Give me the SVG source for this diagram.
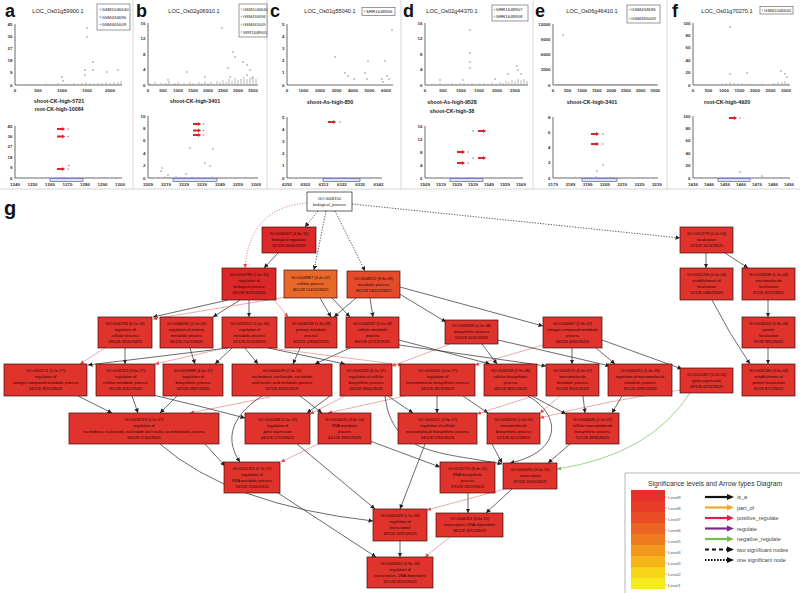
<svg xmlns="http://www.w3.org/2000/svg" xmlns:xlink="http://www.w3.org/1999/xlink" width="800" height="593" viewBox="0 0 800 593">
<defs>
<style>
text{font-family:"Liberation Sans",Arial,sans-serif}
.let{font-size:18px;font-weight:bold;fill:#111}
.ttl{font-size:5.6px;fill:#222;text-anchor:middle}
.sub{font-size:5.3px;font-weight:bold;fill:#222;text-anchor:middle}
.yt{font-size:4.4px;font-weight:bold;fill:#333;text-anchor:end}
.xt{font-size:4.4px;font-weight:bold;fill:#333;text-anchor:middle}
.lg{font-size:4.4px;fill:#222}
.ax{fill:none;stroke:#444;stroke-width:0.8}
.sep{stroke:#d4d4d4;stroke-width:1}
.lgb{fill:#fff;stroke:#555;stroke-width:0.6}
.cl{fill:none;stroke:#9a9a9a;stroke-width:0.7}
.p{fill:#8c8c8c}
.lm{fill:none;stroke:#777;stroke-width:0.4}
.ra{fill:#d8262a}
.gb{fill:#dfe3f5;stroke:#5566b0;stroke-width:0.7}
.nd rect{fill:#e0332b;stroke:#3c0c0c;stroke-width:0.7}
.nd text{font-size:3.9px;fill:#2a0606;text-anchor:middle}
#root rect{fill:#fff;stroke:#222}
#root text{fill:#111;font-size:4px}
#n-breg rect,#n-rbp rect{fill:#dc2828}
#n-cp rect{fill:#e8682a}
#n-mp rect{fill:#e54b2b}
.e{fill:none;stroke:#3a3a3a;stroke-width:0.75;marker-end:url(#ak)}
.r{fill:none;stroke:#e07070;stroke-width:0.6;marker-end:url(#ar)}
.g{fill:none;stroke:#86c86a;stroke-width:0.8;marker-end:url(#ag)}
.dt{stroke-dasharray:1.2 1.5;stroke-width:0.9}
.lt{font-size:6.8px;fill:#333}
.ll{font-size:4.3px;fill:#555}
.al{font-size:5.5px;fill:#444}
.la{fill:none;stroke-width:2.2}
</style>
<marker id="ak" viewBox="0 0 10 10" refX="10" refY="5" markerWidth="4.5" markerHeight="4.5" markerUnits="userSpaceOnUse" orient="auto"><path d="M0,0L10,5L0,10z" fill="#222"/></marker>
<marker id="ar" viewBox="0 0 10 10" refX="10" refY="5" markerWidth="4" markerHeight="4" markerUnits="userSpaceOnUse" orient="auto"><path d="M0,0L10,5L0,10z" fill="#e04848"/></marker>
<marker id="ag" viewBox="0 0 10 10" refX="10" refY="5" markerWidth="4" markerHeight="4" markerUnits="userSpaceOnUse" orient="auto"><path d="M0,0L10,5L0,10z" fill="#6ab850"/></marker>
<path id="rar" class="ra" d="M0,-0.9h5v-1.2l3.2,2.1l-3.2,2.1v-1.2h-5z"/>
</defs>
<rect width="800" height="593" fill="#fff"/>

<g id="panels">
<line class="sep" x1="133" y1="0" x2="133" y2="189"/>
<line class="sep" x1="267" y1="0" x2="267" y2="189"/>
<line class="sep" x1="401" y1="0" x2="401" y2="189"/>
<line class="sep" x1="533" y1="0" x2="533" y2="189"/>
<line class="sep" x1="667" y1="0" x2="667" y2="189"/>
<line class="sep" x1="0" y1="189" x2="800" y2="189"/>

<g id="panel-a">
<text class="let" x="5" y="17">a</text>
<text class="ttl" x="58" y="13">LOC_Os01g59900.1</text>
<rect class="lgb" x="97" y="4" width="33" height="26"/>
<circle class="lm" cx="100" cy="9.5" r="0.7"/><text class="lg" x="101.5" y="11">GSM1046640</text>
<circle class="lm" cx="100" cy="17" r="0.7"/><text class="lg" x="101.5" y="18.5">GSM434696</text>
<circle class="lm" cx="100" cy="24.5" r="0.7"/><text class="lg" x="101.5" y="26">GSM465009</text>
<path class="ax" d="M15,24V85H122"/>
<text class="yt" x="12.5" y="25.5">45</text><text class="yt" x="12.5" y="37.7">36</text><text class="yt" x="12.5" y="49.9">27</text><text class="yt" x="12.5" y="62.1">18</text><text class="yt" x="12.5" y="74.3">9</text><text class="yt" x="12.5" y="86.5">0</text>
<text class="xt" x="15" y="91.5">0</text><text class="xt" x="38" y="91.5">500</text><text class="xt" x="62" y="91.5">1000</text><text class="xt" x="87" y="91.5">1500</text><text class="xt" x="110" y="91.5">2000</text>
<path class="cl" d="M30,85v-1M40,85v-1M46,85v-1.5M52,85v-1M58,85v-2M62,85v-1M66,85v-1.5M70,85v-1M74,85v-2M78,85v-1M82,85v-2M86,85v-3M90,85v-2M94,85v-1.5M98,85v-2.5M102,85v-2M106,85v-3M110,85v-2M114,85v-2.5M118,85v-3M121,85v-4"/>
<g class="p"><circle cx="87" cy="28" r="0.8"/><circle cx="87" cy="37" r="0.8"/><circle cx="85" cy="70" r="0.8"/><circle cx="85" cy="75" r="0.8"/><circle cx="93" cy="62" r="0.8"/><circle cx="93" cy="70" r="0.8"/><circle cx="62" cy="77" r="0.8"/><circle cx="63" cy="81" r="0.8"/><circle cx="118" cy="70" r="0.8"/><circle cx="107" cy="72" r="0.8"/></g>
<text class="sub" x="59" y="103">shoot-CK-high-5721</text>
<text class="sub" x="59" y="111">root-CK-high-10084</text>
<path class="ax" d="M15,126V178H122"/>
<text class="yt" x="12.5" y="127.5">45</text><text class="yt" x="12.5" y="137.9">36</text><text class="yt" x="12.5" y="148.3">27</text><text class="yt" x="12.5" y="158.7">18</text><text class="yt" x="12.5" y="169.1">9</text><text class="yt" x="12.5" y="179.5">0</text>
<text class="xt" x="15" y="186">1240</text><text class="xt" x="32.5" y="186">1250</text><text class="xt" x="50" y="186">1260</text><text class="xt" x="67.5" y="186">1270</text><text class="xt" x="85" y="186">1280</text><text class="xt" x="102.5" y="186">1290</text><text class="xt" x="120" y="186">1300</text>
<rect class="gb" x="50" y="178.5" width="33" height="3"/>
<path class="cl" d="M20,178v-0.8M30,178v-0.8M44,178v-1M56,178v-1M64,178v-1M72,178v-1M80,178v-1M90,178v-0.8M104,178v-0.8M116,178v-0.8"/>
<g class="p"><circle cx="68" cy="129" r="0.8"/><circle cx="68" cy="136.5" r="0.8"/><circle cx="68" cy="169" r="0.8"/><circle cx="69" cy="165.5" r="0.8"/></g>
<use xlink:href="#rar" x="57" y="129"/><use xlink:href="#rar" x="57" y="136.5"/><use xlink:href="#rar" x="57" y="169"/>
</g>

<g id="panel-b">
<text class="let" x="136" y="17">b</text>
<text class="ttl" x="194" y="13">LOC_Os02g06910.1</text>
<rect class="lgb" x="239" y="4" width="28" height="33"/>
<circle class="lm" cx="241.5" cy="9" r="0.6"/><text class="lg" x="243" y="10.5" style="font-size:4px">GSM1046640</text>
<circle class="lm" cx="241.5" cy="16.5" r="0.6"/><text class="lg" x="243" y="18" style="font-size:4px">GSM434696</text>
<circle class="lm" cx="241.5" cy="24.5" r="0.6"/><text class="lg" x="243" y="26" style="font-size:4px">GSM465009</text>
<circle class="lm" cx="241.5" cy="32" r="0.6"/><text class="lg" x="243" y="33.5" style="font-size:4px">SRR1648905</text>
<path class="ax" d="M148,23V85H258"/>
<text class="yt" x="145.5" y="24.5">16</text><text class="yt" x="145.5" y="40">12</text><text class="yt" x="145.5" y="55.5">8</text><text class="yt" x="145.5" y="71">4</text><text class="yt" x="145.5" y="86.5">0</text>
<text class="xt" x="148" y="91.5">0</text><text class="xt" x="163" y="91.5">500</text><text class="xt" x="178" y="91.5">1000</text><text class="xt" x="193" y="91.5">1500</text><text class="xt" x="208" y="91.5">2000</text><text class="xt" x="223" y="91.5">2500</text><text class="xt" x="238" y="91.5">3000</text><text class="xt" x="253" y="91.5">3500</text>
<path class="cl" d="M150,85v-2M152,85v-1M155,85v-3M158,85v-1M161,85v-2M164,85v-1M166,85v-2M169,85v-4M172,85v-1M175,85v-2M178,85v-3M181,85v-1M184,85v-2M187,85v-1M190,85v-3M193,85v-2M196,85v-1M199,85v-3M202,85v-2M205,85v-4M208,85v-2M211,85v-3M214,85v-1M217,85v-4M220,85v-3M223,85v-5M226,85v-3M229,85v-6M232,85v-4M235,85v-7M238,85v-5M241,85v-6M244,85v-8M247,85v-6M250,85v-7M253,85v-9M256,85v-6"/>
<g class="p"><circle cx="222" cy="28" r="0.8"/><circle cx="233" cy="52" r="0.8"/><circle cx="235" cy="57" r="0.8"/><circle cx="228" cy="68" r="0.8"/><circle cx="243" cy="62" r="0.8"/><circle cx="247" cy="65" r="0.8"/><circle cx="250" cy="70" r="0.8"/><circle cx="187" cy="72" r="0.8"/><circle cx="168" cy="80" r="0.8"/><circle cx="205" cy="77" r="0.8"/><circle cx="230" cy="77" r="0.8"/><circle cx="247" cy="75" r="0.8"/><circle cx="252" cy="78" r="0.8"/></g>
<text class="sub" x="195" y="103">shoot-CK-high-3401</text>
<path class="ax" d="M148,116V178H258"/>
<text class="yt" x="145.5" y="117.5">10</text><text class="yt" x="145.5" y="129.9">8</text><text class="yt" x="145.5" y="142.3">6</text><text class="yt" x="145.5" y="154.7">4</text><text class="yt" x="145.5" y="167.1">2</text><text class="yt" x="145.5" y="179.5">0</text>
<text class="xt" x="148" y="186">3209</text><text class="xt" x="166" y="186">3219</text><text class="xt" x="184" y="186">3229</text><text class="xt" x="202" y="186">3239</text><text class="xt" x="220" y="186">3249</text><text class="xt" x="238" y="186">3259</text><text class="xt" x="256" y="186">3269</text>
<rect class="gb" x="173" y="178.5" width="44" height="3"/>
<path class="cl" d="M152,178v-1M158,178v-1M165,178v-1.5M170,178v-1M176,178v-2M180,178v-1M185,178v-1M192,178v-1.5M198,178v-1M206,178v-1M212,178v-1.5M218,178v-1M226,178v-1M236,178v-1M246,178v-1M254,178v-1"/>
<g class="p"><circle cx="203.5" cy="124" r="0.8"/><circle cx="203.5" cy="130.5" r="0.8"/><circle cx="203.5" cy="135" r="0.8"/><circle cx="162" cy="168" r="0.8"/><circle cx="161" cy="171" r="0.8"/><circle cx="168" cy="175" r="0.8"/><circle cx="190" cy="148" r="0.8"/><circle cx="205" cy="163" r="0.8"/><circle cx="210" cy="166" r="0.8"/><circle cx="213" cy="149" r="0.8"/><circle cx="186" cy="174" r="0.8"/></g>
<use xlink:href="#rar" x="193" y="124"/><use xlink:href="#rar" x="193" y="130.5"/><use xlink:href="#rar" x="193" y="135"/>
</g>

<g id="panel-c">
<text class="let" x="270" y="17">c</text>
<text class="ttl" x="330" y="13">LOC_Os01g55040.1</text>
<rect class="lgb" x="362" y="7.5" width="33" height="8"/>
<circle class="lm" cx="364.5" cy="11.5" r="0.6"/><text class="lg" x="366" y="13">SRR1648906</text>
<path class="ax" d="M287,24V85H393"/>
<text class="yt" x="284.5" y="25.5">5</text><text class="yt" x="284.5" y="37.7">4</text><text class="yt" x="284.5" y="49.9">3</text><text class="yt" x="284.5" y="62.1">2</text><text class="yt" x="284.5" y="74.3">1</text><text class="yt" x="284.5" y="86.5">0</text>
<text class="xt" x="287" y="91.5">0</text><text class="xt" x="303.5" y="91.5">1000</text><text class="xt" x="320" y="91.5">2000</text><text class="xt" x="336.5" y="91.5">3000</text><text class="xt" x="353" y="91.5">4000</text><text class="xt" x="369.5" y="91.5">5000</text><text class="xt" x="386" y="91.5">6000</text>
<g class="p"><circle cx="335" cy="57" r="0.8"/><circle cx="345" cy="73" r="0.8"/><circle cx="348" cy="76" r="0.8"/><circle cx="354" cy="79" r="0.8"/><circle cx="365" cy="73" r="0.8"/><circle cx="368" cy="61" r="0.8"/><circle cx="367" cy="79" r="0.8"/><circle cx="382" cy="79" r="0.8"/><circle cx="385" cy="61" r="0.8"/><circle cx="387" cy="76" r="0.8"/><circle cx="383" cy="82" r="0.8"/><circle cx="389" cy="79" r="0.8"/><circle cx="392" cy="30" r="0.8"/></g>
<text class="sub" x="330" y="104">shoot-As-high-850</text>
<path class="ax" d="M287,117V178H382"/>
<text class="yt" x="284.5" y="118.5">5</text><text class="yt" x="284.5" y="130.7">4</text><text class="yt" x="284.5" y="142.9">3</text><text class="yt" x="284.5" y="155.1">2</text><text class="yt" x="284.5" y="167.3">1</text><text class="yt" x="284.5" y="179.5">0</text>
<text class="xt" x="287" y="186">6292</text><text class="xt" x="305.3" y="186">6302</text><text class="xt" x="323.6" y="186">6312</text><text class="xt" x="341.9" y="186">6322</text><text class="xt" x="360.2" y="186">6332</text><text class="xt" x="378.5" y="186">6342</text>
<rect class="gb" x="323" y="178.5" width="37" height="3"/>
<circle class="p" cx="340" cy="122" r="0.8"/>
<use xlink:href="#rar" x="328" y="122"/>
</g>

<g id="panel-d">
<text class="let" x="403" y="17">d</text>
<text class="ttl" x="452" y="13">LOC_Os02g44370.1</text>
<rect class="lgb" x="492" y="5" width="36" height="16"/>
<circle class="lm" cx="494.5" cy="9.5" r="0.6"/><text class="lg" x="496" y="11">SRR1648907</text>
<circle class="lm" cx="494.5" cy="16.5" r="0.6"/><text class="lg" x="496" y="18">SRR1648908</text>
<path class="ax" d="M425,23V85H528"/>
<text class="yt" x="422.5" y="24.5">16</text><text class="yt" x="422.5" y="40">12</text><text class="yt" x="422.5" y="55.5">8</text><text class="yt" x="422.5" y="71">4</text><text class="yt" x="422.5" y="86.5">0</text>
<text class="xt" x="425" y="91.5">0</text><text class="xt" x="443" y="91.5">500</text><text class="xt" x="461" y="91.5">1000</text><text class="xt" x="479" y="91.5">1500</text><text class="xt" x="497" y="91.5">2000</text><text class="xt" x="515" y="91.5">2500</text>
<path class="cl" d="M428,85v-1M432,85v-1.5M436,85v-1M440,85v-2M444,85v-1M448,85v-1.5M452,85v-2M456,85v-1M460,85v-1.5M464,85v-2M468,85v-1M472,85v-2M476,85v-1M480,85v-1.5M484,85v-2M488,85v-1M492,85v-2.5M496,85v-1.5M500,85v-3M503,85v-2M506,85v-4M509,85v-3M512,85v-5M515,85v-4M518,85v-6M521,85v-5M524,85v-6M527,85v-4"/>
<g class="p"><circle cx="470" cy="30" r="0.8"/><circle cx="470" cy="53" r="0.8"/><circle cx="470" cy="62" r="0.8"/><circle cx="470" cy="68" r="0.8"/><circle cx="508" cy="74" r="0.8"/><circle cx="517" cy="66" r="0.8"/><circle cx="518" cy="70" r="0.8"/><circle cx="521" cy="74" r="0.8"/><circle cx="440" cy="80" r="0.8"/><circle cx="463" cy="80" r="0.8"/><circle cx="495" cy="79" r="0.8"/></g>
<text class="sub" x="452" y="104">shoot-As-high-9528</text>
<text class="sub" x="452" y="113">shoot-CK-high-38</text>
<path class="ax" d="M425,126V178H523"/>
<text class="yt" x="422.5" y="127.5">16</text><text class="yt" x="422.5" y="140.5">12</text><text class="yt" x="422.5" y="153.5">8</text><text class="yt" x="422.5" y="166.5">4</text><text class="yt" x="422.5" y="179.5">0</text>
<text class="xt" x="425" y="186">1509</text><text class="xt" x="441" y="186">1519</text><text class="xt" x="457" y="186">1529</text><text class="xt" x="473" y="186">1539</text><text class="xt" x="489" y="186">1549</text><text class="xt" x="505" y="186">1559</text><text class="xt" x="521" y="186">1569</text>
<rect class="gb" x="450" y="178.5" width="33" height="3"/>
<g class="p"><circle cx="473" cy="131" r="0.8"/><circle cx="468" cy="152" r="0.8"/><circle cx="468" cy="163" r="0.8"/><circle cx="473" cy="158" r="0.8"/></g>
<use xlink:href="#rar" x="478" y="131"/><use xlink:href="#rar" x="457" y="152"/><use xlink:href="#rar" x="457" y="163"/><use xlink:href="#rar" x="478" y="158"/>
</g>

<g id="panel-e">
<text class="let" x="535" y="17">e</text>
<text class="ttl" x="592" y="13">LOC_Os06g46410.1</text>
<rect class="lgb" x="627" y="5" width="33" height="18"/>
<circle class="lm" cx="629.5" cy="9.5" r="0.6"/><text class="lg" x="631" y="11">GSM434696</text>
<circle class="lm" cx="629.5" cy="18.5" r="0.6"/><text class="lg" x="631" y="20">GSM465009</text>
<path class="ax" d="M553,24V85H658"/>
<text class="yt" x="550.5" y="25.5">12000</text><text class="yt" x="550.5" y="40.75">9000</text><text class="yt" x="550.5" y="56">6000</text><text class="yt" x="550.5" y="71.25">3000</text><text class="yt" x="550.5" y="86.5">0</text>
<text class="xt" x="553" y="91.5">0</text><text class="xt" x="567.6" y="91.5">500</text><text class="xt" x="582.2" y="91.5">1000</text><text class="xt" x="596.8" y="91.5">1500</text><text class="xt" x="611.4" y="91.5">2000</text><text class="xt" x="626" y="91.5">2500</text><text class="xt" x="640.6" y="91.5">3000</text><text class="xt" x="655.2" y="91.5">3500</text>
<path class="cl" d="M556,84.5H656"/>
<circle class="p" cx="563" cy="35" r="0.8"/>
<text class="sub" x="592" y="104">shoot-CK-high-3401</text>
<path class="ax" d="M553,117V178H658"/>
<text class="yt" x="550.5" y="118.5">8</text><text class="yt" x="550.5" y="133.75">6</text><text class="yt" x="550.5" y="149">4</text><text class="yt" x="550.5" y="164.25">2</text><text class="yt" x="550.5" y="179.5">0</text>
<text class="xt" x="553" y="186">3179</text><text class="xt" x="570.3" y="186">3189</text><text class="xt" x="587.6" y="186">3199</text><text class="xt" x="604.9" y="186">3209</text><text class="xt" x="622.2" y="186">3219</text><text class="xt" x="639.5" y="186">3229</text><text class="xt" x="656.8" y="186">3239</text>
<rect class="gb" x="582" y="178.5" width="35" height="3"/>
<path class="cl" d="M561,178v-1M568,178v-0.8M575,178v-1.5M580,178v-1M585,178v-1M590,178v-1.2M596,178v-2M606,178v-1M610,178v-1.5M640,178v-1M645,178v-1"/>
<g class="p"><circle cx="603" cy="134" r="0.8"/><circle cx="603" cy="144" r="0.8"/><circle cx="603" cy="165" r="0.8"/><circle cx="597" cy="171" r="0.8"/></g>
<use xlink:href="#rar" x="591" y="134"/><use xlink:href="#rar" x="591" y="144"/>
</g>

<g id="panel-f">
<text class="let" x="672" y="17">f</text>
<text class="ttl" x="727" y="13">LOC_Os01g70270.1</text>
<rect class="lgb" x="760" y="6.5" width="33" height="7.5"/>
<circle class="lm" cx="762.5" cy="10.3" r="0.6"/><text class="lg" x="764" y="11.8">GSM1046640</text>
<path class="ax" d="M693,23V85H790"/>
<text class="yt" x="690.5" y="24.5">100</text><text class="yt" x="690.5" y="36.9">80</text><text class="yt" x="690.5" y="49.3">60</text><text class="yt" x="690.5" y="61.7">40</text><text class="yt" x="690.5" y="74.1">20</text><text class="yt" x="690.5" y="86.5">0</text>
<text class="xt" x="693" y="91.5">0</text><text class="xt" x="708.5" y="91.5">500</text><text class="xt" x="724" y="91.5">1000</text><text class="xt" x="739.5" y="91.5">1500</text><text class="xt" x="755" y="91.5">2000</text><text class="xt" x="770.5" y="91.5">2500</text><text class="xt" x="786" y="91.5">3000</text>
<path class="cl" d="M698,85v-1M704,85v-1M710,85v-1M716,85v-1M722,85v-1.5M726,85v-2M730,85v-3M734,85v-2M738,85v-1.5M742,85v-2M746,85v-1M750,85v-1.5M756,85v-1M762,85v-1.5M768,85v-1M774,85v-2M778,85v-2.5M782,85v-3M785,85v-4M788,85v-2"/>
<g class="p"><circle cx="730" cy="27" r="0.8"/><circle cx="730" cy="74" r="0.8"/><circle cx="747" cy="73" r="0.8"/><circle cx="781" cy="71" r="0.8"/><circle cx="785" cy="74" r="0.8"/><circle cx="787" cy="77" r="0.8"/></g>
<text class="sub" x="727" y="104">root-CK-high-4920</text>
<path class="ax" d="M693,116V178H790"/>
<text class="yt" x="690.5" y="117.5">100</text><text class="yt" x="690.5" y="129.9">80</text><text class="yt" x="690.5" y="142.3">60</text><text class="yt" x="690.5" y="154.7">40</text><text class="yt" x="690.5" y="167.1">20</text><text class="yt" x="690.5" y="179.5">0</text>
<text class="xt" x="693" y="186">1436</text><text class="xt" x="709" y="186">1446</text><text class="xt" x="725" y="186">1456</text><text class="xt" x="741" y="186">1466</text><text class="xt" x="757" y="186">1476</text><text class="xt" x="773" y="186">1486</text><text class="xt" x="789" y="186">1496</text>
<rect class="gb" x="718" y="178.5" width="32" height="3"/>
<g class="p"><circle cx="740" cy="118" r="0.8"/><circle cx="740" cy="172" r="0.8"/><circle cx="762" cy="176" r="0.8"/></g>
<use xlink:href="#rar" x="729" y="118"/>
</g>
</g>

<text class="let" x="4" y="215" style="font-size:20px">g</text>

<g id="connectors">
<path class="e dt" d="M318,211L305,227"/>
<path class="r dt" d="M309,203Q250,206 245,268"/>
<path class="e dt" d="M326,211L314,270"/>
<path class="e dt" d="M335,211L365,271"/>
<path class="e dt" d="M352,204L680,238"/>
<path class="e" d="M278,253L264,268"/>
<path class="e" d="M706,253V268"/>
<path class="e" d="M725,253L748,268"/>
<path class="e" d="M768,300V317"/>
<path class="e" d="M768,348V364"/>
<path class="e" d="M712,300Q730,335 750,364"/>
<path class="e" d="M228,300L153,317"/>
<path class="e" d="M240,300L213,317"/>
<path class="e" d="M249,300V317"/>
<path class="r" d="M286,297L153,319"/>
<path class="r" d="M272,297L288,317"/>
<path class="e" d="M320,298L331,317"/>
<path class="e" d="M356,298L334,317"/>
<path class="e" d="M332,298L350,317"/>
<path class="e" d="M370,298L373,317"/>
<path class="e" d="M398,293L446,322"/>
<path class="e" d="M400,287L543,326"/>
<path class="e" d="M572,348V364"/>
<path class="e" d="M596,348L615,364"/>
<path class="e" d="M602,340L682,369"/>
<path class="r" d="M543,345L475,365"/>
<path class="e" d="M125,348V364"/>
<path class="r" d="M105,348L80,364"/>
<path class="e" d="M228,348L88,365"/>
<path class="r" d="M225,348L155,364"/>
<path class="e" d="M190,348L195,364"/>
<path class="e" d="M232,348L215,364"/>
<path class="e" d="M245,348L258,364"/>
<path class="e" d="M300,348L293,364"/>
<path class="e" d="M350,348L315,364"/>
<path class="e" d="M268,348L345,364"/>
<path class="r" d="M270,348L402,365"/>
<path class="r" d="M450,344L392,366"/>
<path class="e" d="M399,340L490,364"/>
<path class="e" d="M399,345L546,366"/>
<path class="e" d="M498,340L610,366"/>
<path class="e" d="M482,344L497,364"/>
<path class="e" d="M78,396L112,413"/>
<path class="e" d="M132,396L138,413"/>
<path class="e" d="M177,396L160,413"/>
<path class="r" d="M270,397L190,413"/>
<path class="e" d="M153,395Q200,406 245,418"/>
<path class="e" d="M330,396L307,413"/>
<path class="r" d="M345,396L310,414"/>
<path class="e" d="M300,396L322,413"/>
<path class="r" d="M405,396L328,413"/>
<path class="e" d="M388,396L413,413"/>
<path class="e" d="M437,396V413"/>
<path class="e" d="M463,396L488,413"/>
<path class="r" d="M530,397L477,414"/>
<path class="r" d="M560,396L540,413"/>
<path class="r" d="M680,390Q600,402 540,418"/>
<path class="e" d="M532,396L566,414"/>
<path class="e" d="M583,396L585,413"/>
<path class="e" d="M622,396L612,413"/>
<path class="g" d="M690,393Q650,455 557,469"/>
<path class="e" d="M262,396C228,418 226,442 240,462"/>
<path class="e" d="M528,396C562,415 562,452 510,463"/>
<path class="e" d="M385,396C392,455 440,452 502,464"/>
<path class="e" d="M205,444L225,466"/>
<path class="r" d="M320,443L281,462"/>
<path class="e" d="M160,444Q230,505 373,521"/>
<path class="e" d="M297,444L375,509"/>
<path class="e" d="M370,441L440,467"/>
<path class="e" d="M425,444L400,509"/>
<path class="e" d="M492,444L502,463"/>
<path class="e" d="M570,444L548,463"/>
<path class="e" d="M278,493L376,557"/>
<path class="e" d="M468,493V513"/>
<path class="e" d="M512,489L486,513"/>
<path class="r" d="M505,489L427,510"/>
<path class="e" d="M400,541V557"/>
<path class="r" d="M450,537L425,557"/>
</g>

<g id="root" class="nd"><rect x="307" y="192" width="45" height="19"/><text><tspan x="329.5" y="199.5">GO:0008150</tspan><tspan x="329.5" y="205.5">biological_process</tspan></text></g>
<g id="n-breg" class="nd"><rect x="262" y="227" width="54" height="26"/><text><tspan x="289" y="235.4">GO:0065007 (4.8e-15)</tspan><tspan x="289" y="241.4">biological regulation</tspan><tspan x="289" y="247.4">42/128 3356/29425</tspan></text></g>
<g id="n-loc" class="nd"><rect x="680" y="227" width="53" height="26"/><text><tspan x="706.5" y="235.4">GO:0051179 (1.2e-04)</tspan><tspan x="706.5" y="241.4">localization</tspan><tspan x="706.5" y="247.4">12/128 1623/29425</tspan></text></g>
<g id="n-rbp" class="nd"><rect x="222" y="268" width="54" height="32"/><text><tspan x="249" y="276.4">GO:0050789 (1.6e-15)</tspan><tspan x="249" y="282.4">regulation of</tspan><tspan x="249" y="288.4">biological process</tspan><tspan x="249" y="294.4">40/128 3015/29425</tspan></text></g>
<g id="n-cp" class="nd"><rect x="284" y="270" width="53" height="28"/><text><tspan x="310.5" y="279.4">GO:0009987 (3.4e-07)</tspan><tspan x="310.5" y="285.4">cellular process</tspan><tspan x="310.5" y="291.4">96/128 15423/29425</tspan></text></g>
<g id="n-mp" class="nd"><rect x="347" y="271" width="53" height="27"/><text><tspan x="373.5" y="279.9">GO:0008152 (8.9e-09)</tspan><tspan x="373.5" y="285.9">metabolic process</tspan><tspan x="373.5" y="291.9">90/128 13051/29425</tspan></text></g>
<g id="n-l2a" class="nd"><rect x="680" y="268" width="53" height="32"/><text><tspan x="706.5" y="276.4">GO:0051234 (2.0e-04)</tspan><tspan x="706.5" y="282.4">establishment of</tspan><tspan x="706.5" y="288.4">localization</tspan><tspan x="706.5" y="294.4">11/128 1480/29425</tspan></text></g>
<g id="n-l2b" class="nd"><rect x="742" y="268" width="53" height="32"/><text><tspan x="768.5" y="276.4">GO:0033036 (1.1e-04)</tspan><tspan x="768.5" y="282.4">macromolecule</tspan><tspan x="768.5" y="288.4">localization</tspan><tspan x="768.5" y="294.4">9/128 1012/29425</tspan></text></g>

<g id="n-l3a" class="nd"><rect x="98" y="317" width="54" height="31"/><text><tspan x="125" y="324.9">GO:0050794 (6.2e-16)</tspan><tspan x="125" y="330.9">regulation of</tspan><tspan x="125" y="336.9">cellular process</tspan><tspan x="125" y="342.9">39/128 2816/29425</tspan></text></g>
<g id="n-l3b" class="nd"><rect x="160" y="317" width="53" height="31"/><text><tspan x="186.5" y="324.9">GO:0080090 (2.1e-16)</tspan><tspan x="186.5" y="330.9">regulation of primary</tspan><tspan x="186.5" y="336.9">metabolic process</tspan><tspan x="186.5" y="342.9">36/128 2107/29425</tspan></text></g>
<g id="n-l3c" class="nd"><rect x="222" y="317" width="55" height="31"/><text><tspan x="249.5" y="324.9">GO:0019222 (1.0e-16)</tspan><tspan x="249.5" y="330.9">regulation of</tspan><tspan x="249.5" y="336.9">metabolic process</tspan><tspan x="249.5" y="342.9">37/128 2213/29425</tspan></text></g>
<g id="n-l3d" class="nd"><rect x="285" y="317" width="52" height="31"/><text><tspan x="311" y="324.9">GO:0044238 (1.8e-09)</tspan><tspan x="311" y="330.9">primary metabolic</tspan><tspan x="311" y="336.9">process</tspan><tspan x="311" y="342.9">87/128 11856/29425</tspan></text></g>
<g id="n-l3e" class="nd"><rect x="346" y="317" width="53" height="31"/><text><tspan x="372.5" y="324.9">GO:0044237 (5.5e-09)</tspan><tspan x="372.5" y="330.9">cellular metabolic</tspan><tspan x="372.5" y="336.9">process</tspan><tspan x="372.5" y="342.9">86/128 11713/29425</tspan></text></g>
<g id="n-l3f" class="nd"><rect x="445" y="320" width="53" height="24"/><text><tspan x="471.5" y="327.4">GO:0009058 (4.2e-08)</tspan><tspan x="471.5" y="333.4">biosynthetic process</tspan><tspan x="471.5" y="339.4">59/128 6035/29425</tspan></text></g>
<g id="n-l3g" class="nd"><rect x="543" y="317" width="59" height="31"/><text><tspan x="572.5" y="324.9">GO:0006807 (2.9e-13)</tspan><tspan x="572.5" y="330.9">nitrogen compound metabolic</tspan><tspan x="572.5" y="336.9">process</tspan><tspan x="572.5" y="342.9">58/128 5090/29425</tspan></text></g>
<g id="n-l3h" class="nd"><rect x="742" y="317" width="53" height="31"/><text><tspan x="768.5" y="324.9">GO:0008104 (3.8e-04)</tspan><tspan x="768.5" y="330.9">protein</tspan><tspan x="768.5" y="336.9">localization</tspan><tspan x="768.5" y="342.9">9/128 980/29425</tspan></text></g>

<g id="n-l4a" class="nd"><rect x="4" y="364" width="83" height="32"/><text><tspan x="45.5" y="372.4">GO:0051171 (3.1e-17)</tspan><tspan x="45.5" y="378.4">regulation of</tspan><tspan x="45.5" y="384.4">nitrogen compound metabolic process</tspan><tspan x="45.5" y="390.4">34/128 1876/29425</tspan></text></g>
<g id="n-l4b" class="nd"><rect x="96" y="364" width="59" height="32"/><text><tspan x="125.5" y="372.4">GO:0031323 (9.6e-17)</tspan><tspan x="125.5" y="378.4">regulation of</tspan><tspan x="125.5" y="384.4">cellular metabolic process</tspan><tspan x="125.5" y="390.4">35/128 2011/29425</tspan></text></g>
<g id="n-l4c" class="nd"><rect x="163" y="364" width="60" height="32"/><text><tspan x="193" y="372.4">GO:0009889 (4.4e-17)</tspan><tspan x="193" y="378.4">regulation of</tspan><tspan x="193" y="384.4">biosynthetic process</tspan><tspan x="193" y="390.4">34/128 1867/29425</tspan></text></g>
<g id="n-l4d" class="nd"><rect x="232" y="364" width="100" height="32"/><text><tspan x="282" y="372.4">GO:0006139 (2.5e-14)</tspan><tspan x="282" y="378.4">nucleobase, nucleoside, nucleotide</tspan><tspan x="282" y="384.4">and nucleic acid metabolic process</tspan><tspan x="282" y="390.4">55/128 4320/29425</tspan></text></g>
<g id="n-l4e" class="nd"><rect x="340" y="364" width="52" height="32"/><text><tspan x="366" y="372.4">GO:0031326 (4.2e-17)</tspan><tspan x="366" y="378.4">regulation of cellular</tspan><tspan x="366" y="384.4">biosynthetic process</tspan><tspan x="366" y="390.4">34/128 1860/29425</tspan></text></g>
<g id="n-l4f" class="nd"><rect x="400" y="364" width="75" height="32"/><text><tspan x="437.5" y="372.4">GO:0010556 (4.0e-17)</tspan><tspan x="437.5" y="378.4">regulation of</tspan><tspan x="437.5" y="384.4">macromolecule biosynthetic process</tspan><tspan x="437.5" y="390.4">34/128 1823/29425</tspan></text></g>
<g id="n-l4g" class="nd"><rect x="484" y="364" width="53" height="32"/><text><tspan x="510.5" y="372.4">GO:0044249 (2.9e-08)</tspan><tspan x="510.5" y="378.4">cellular biosynthetic</tspan><tspan x="510.5" y="384.4">process</tspan><tspan x="510.5" y="390.4">58/128 5820/29425</tspan></text></g>
<g id="n-l4h" class="nd"><rect x="546" y="364" width="53" height="32"/><text><tspan x="572.5" y="372.4">GO:0043170 (6.4e-07)</tspan><tspan x="572.5" y="378.4">macromolecule</tspan><tspan x="572.5" y="384.4">metabolic process</tspan><tspan x="572.5" y="390.4">70/128 9015/29425</tspan></text></g>
<g id="n-l4i" class="nd"><rect x="608" y="364" width="64" height="32"/><text><tspan x="640" y="372.4">GO:0060255 (1.3e-16)</tspan><tspan x="640" y="378.4">regulation of macromolecule</tspan><tspan x="640" y="384.4">metabolic process</tspan><tspan x="640" y="390.4">35/128 1995/29425</tspan></text></g>
<g id="n-l4j" class="nd"><rect x="680" y="368" width="53" height="25"/><text><tspan x="706.5" y="375.9">GO:0010467 (1.2e-10)</tspan><tspan x="706.5" y="381.9">gene expression</tspan><tspan x="706.5" y="387.9">49/128 4210/29425</tspan></text></g>
<g id="n-l4k" class="nd"><rect x="742" y="364" width="53" height="32"/><text><tspan x="768.5" y="372.4">GO:0045184 (4.6e-04)</tspan><tspan x="768.5" y="378.4">establishment of</tspan><tspan x="768.5" y="384.4">protein localization</tspan><tspan x="768.5" y="390.4">8/128 871/29425</tspan></text></g>

<g id="n-l5a" class="nd"><rect x="69" y="413" width="150" height="31"/><text><tspan x="144" y="420.9">GO:0019219 (1.1e-17)</tspan><tspan x="144" y="426.9">regulation of</tspan><tspan x="144" y="432.9">nucleobase, nucleoside, nucleotide and nucleic acid metabolic process</tspan><tspan x="144" y="438.9">34/128 1740/29425</tspan></text></g>
<g id="n-l5b" class="nd"><rect x="245" y="413" width="65" height="31"/><text><tspan x="277.5" y="420.9">GO:0010468 (2.2e-17)</tspan><tspan x="277.5" y="426.9">regulation of</tspan><tspan x="277.5" y="432.9">gene expression</tspan><tspan x="277.5" y="438.9">34/128 1720/29425</tspan></text></g>
<g id="n-l5c" class="nd"><rect x="318" y="413" width="53" height="31"/><text><tspan x="344.5" y="420.9">GO:0016070 (3.6e-14)</tspan><tspan x="344.5" y="426.9">RNA metabolic</tspan><tspan x="344.5" y="432.9">process</tspan><tspan x="344.5" y="438.9">44/128 2930/29425</tspan></text></g>
<g id="n-l5d" class="nd"><rect x="398" y="413" width="79" height="31"/><text><tspan x="437.5" y="420.9">GO:2000112 (3.9e-17)</tspan><tspan x="437.5" y="426.9">regulation of cellular</tspan><tspan x="437.5" y="432.9">macromolecule biosynthetic process</tspan><tspan x="437.5" y="438.9">34/128 1791/29425</tspan></text></g>
<g id="n-l5e" class="nd"><rect x="487" y="413" width="53" height="31"/><text><tspan x="513.5" y="420.9">GO:0009059 (1.6e-07)</tspan><tspan x="513.5" y="426.9">macromolecule</tspan><tspan x="513.5" y="432.9">biosynthetic process</tspan><tspan x="513.5" y="438.9">52/128 5012/29425</tspan></text></g>
<g id="n-l5f" class="nd"><rect x="566" y="413" width="53" height="31"/><text><tspan x="592.5" y="420.9">GO:0034645 (1.5e-07)</tspan><tspan x="592.5" y="426.9">cellular macromolecule</tspan><tspan x="592.5" y="432.9">biosynthetic process</tspan><tspan x="592.5" y="438.9">52/128 4998/29425</tspan></text></g>

<g id="n-l6a" class="nd"><rect x="224" y="462" width="56" height="31"/><text><tspan x="252" y="469.9">GO:0051252 (1.7e-17)</tspan><tspan x="252" y="475.9">regulation of</tspan><tspan x="252" y="481.9">RNA metabolic process</tspan><tspan x="252" y="487.9">33/128 1590/29425</tspan></text></g>
<g id="n-l6b" class="nd"><rect x="440" y="462" width="55" height="31"/><text><tspan x="467.5" y="469.9">GO:0032774 (8.4e-15)</tspan><tspan x="467.5" y="475.9">RNA biosynthetic</tspan><tspan x="467.5" y="481.9">process</tspan><tspan x="467.5" y="487.9">37/128 1902/29425</tspan></text></g>
<g id="n-l6c" class="nd"><rect x="503" y="463" width="54" height="26"/><text><tspan x="530" y="471.4">GO:0006350 (9.0e-15)</tspan><tspan x="530" y="477.4">transcription</tspan><tspan x="530" y="483.4">37/128 1920/29425</tspan></text></g>
<g id="n-l7a" class="nd"><rect x="373" y="509" width="54" height="32"/><text><tspan x="400" y="517.4">GO:0045449 (1.5e-18)</tspan><tspan x="400" y="523.4">regulation of</tspan><tspan x="400" y="529.4">transcription</tspan><tspan x="400" y="535.4">33/128 1497/29425</tspan></text></g>
<g id="n-l7b" class="nd"><rect x="436" y="513" width="67" height="24"/><text><tspan x="469.5" y="520.4">GO:0006351 (6.8e-15)</tspan><tspan x="469.5" y="526.4">transcription, DNA-dependent</tspan><tspan x="469.5" y="532.4">36/128 1875/29425</tspan></text></g>
<g id="n-l8" class="nd"><rect x="367" y="557" width="66" height="31"/><text><tspan x="400" y="564.9">GO:0006355 (5.9e-18)</tspan><tspan x="400" y="570.9">regulation of</tspan><tspan x="400" y="576.9">transcription, DNA-dependent</tspan><tspan x="400" y="582.9">32/128 1401/29425</tspan></text></g>

<g id="legend">
<path d="M625,593V473H800" fill="none" stroke="#999" stroke-width="0.7"/>
<text class="lt" x="648" y="486">Significance levels and Arrow types Diagram</text>
<rect x="631" y="490" width="34" height="11" fill="#e8302a"/>
<rect x="631" y="501" width="34" height="11" fill="#e93c28"/>
<rect x="631" y="512" width="34" height="11" fill="#ea4e26"/>
<rect x="631" y="523" width="34" height="11" fill="#ec6424"/>
<rect x="631" y="534" width="34" height="11" fill="#ef7c20"/>
<rect x="631" y="545" width="34" height="11" fill="#f2981c"/>
<rect x="631" y="556" width="34" height="11" fill="#f5b518"/>
<rect x="631" y="567" width="34" height="11" fill="#f7d418"/>
<rect x="631" y="578" width="34" height="11" fill="#f5ec20"/>
<path d="M665,497h2M665,508h2M665,519h2M665,530h2M665,541h2M665,552h2M665,563h2M665,574h2M665,585h2" stroke="#777" stroke-width="0.5"/>
<text class="ll" x="668" y="498.5">Level9</text><text class="ll" x="668" y="509.5">Level8</text><text class="ll" x="668" y="520.5">Level7</text><text class="ll" x="668" y="531.5">Level6</text><text class="ll" x="668" y="542.5">Level5</text><text class="ll" x="668" y="553.5">Level4</text><text class="ll" x="668" y="564.5">Level3</text><text class="ll" x="668" y="575.5">Level2</text><text class="ll" x="668" y="586.5">Level1</text>
<path class="la" d="M705,497H728" stroke="#111"/><path d="M727,494L734,497L727,500z" fill="#111"/>
<path class="la" d="M705,507.5H728" stroke="#f5a623"/><path d="M727,504.5L734,507.5L727,510.5z" fill="#f5a623"/>
<path class="la" d="M705,518H728" stroke="#e01e4a"/><path d="M727,515L734,518L727,521z" fill="#e01e4a"/>
<path class="la" d="M705,528.5H728" stroke="#7a2a8c"/><path d="M727,525.5L734,528.5L727,531.5z" fill="#7a2a8c"/>
<path class="la" d="M705,539H728" stroke="#72c048"/><path d="M727,536L734,539L727,542z" fill="#72c048"/>
<path class="la" d="M705,549.5H728" stroke="#111" stroke-dasharray="4 3"/><path d="M727,546.5L734,549.5L727,552.5z" fill="#111"/>
<path class="la" d="M705,560H728" stroke="#111" stroke-dasharray="1.6 1.4"/><path d="M727,557L734,560L727,563z" fill="#111"/>
<text class="al" x="737" y="499">is_a</text>
<text class="al" x="737" y="509.5">part_of</text>
<text class="al" x="737" y="520">positive_regulate</text>
<text class="al" x="737" y="530.5">regulate</text>
<text class="al" x="737" y="541">negative_regulate</text>
<text class="al" x="737" y="551.5">two significant nodes</text>
<text class="al" x="737" y="562">one significant node</text>
</g>
</svg>
